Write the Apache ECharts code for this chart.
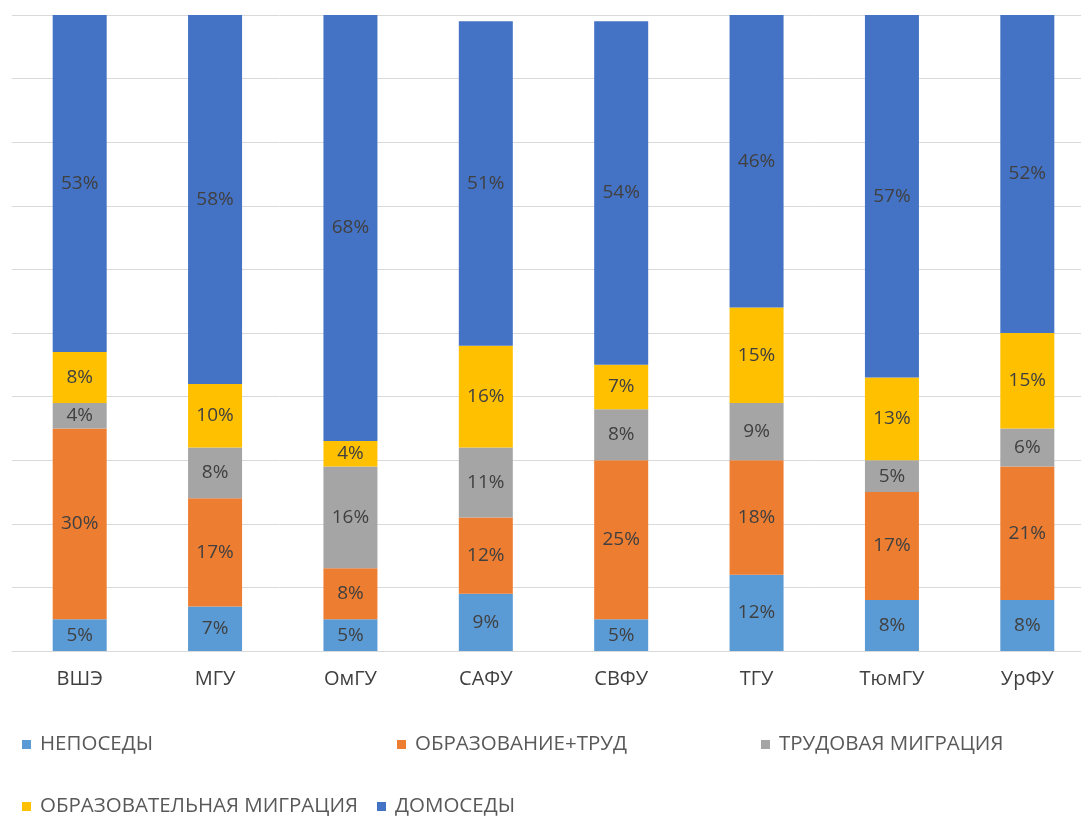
<!DOCTYPE html>
<html><head><meta charset="utf-8">
<script src="https://cdn.jsdelivr.net/npm/echarts@6/dist/echarts.min.js"></script>
<style>html,body{margin:0;padding:0;background:#fff}#c{width:1081px;height:821px}</style>
</head><body><div id="c"></div>
<script>
const categories = ['ВШЭ','МГУ','ОмГУ','САФУ','СВФУ','ТГУ','ТюмГУ','УрФУ'];
const seriesNames = ['НЕПОСЕДЫ','ОБРАЗОВАНИЕ+ТРУД','ТРУДОВАЯ МИГРАЦИЯ','ОБРАЗОВАТЕЛЬНАЯ МИГРАЦИЯ','ДОМОСЕДЫ'];
const neposedy   = [5, 7, 5, 9, 5, 12, 8, 8];
const obrTrud    = [30, 17, 8, 12, 25, 18, 17, 21];
const trudMigr   = [4, 8, 16, 11, 8, 9, 5, 6];
const obrMigr    = [8, 10, 4, 16, 7, 15, 13, 15];
const domosedy   = [53, 58, 68, 51, 54, 46, 57, 52];
const colors = ['#5B9BD5','#ED7D31','#A5A5A5','#FFC000','#4472C4'];
const allData = [neposedy, obrTrud, trudMigr, obrMigr, domosedy];

const font = '"Open Sans", "Noto Sans", sans-serif';
const legendPos = [
  {left: 22, top: 734},
  {left: 397, top: 734},
  {left: 761, top: 734},
  {left: 22, top: 796},
  {left: 377, top: 796}
];
const chart = echarts.init(document.getElementById('c'));
chart.setOption({
  animation: false,
  legend: seriesNames.map((n, i) => ({
    data: [n], left: legendPos[i].left, top: legendPos[i].top,
    icon: 'rect', itemWidth: 9, itemHeight: 9, itemGap: 6, padding: 0,
    textStyle: {color: '#595959', fontSize: 20.5, fontFamily: font, padding: [0, 0, 0, 4]}
  })),
  grid: {left: 12, top: 15, width: 1083, height: 636, outerBoundsMode: 'none', containLabel: false},
  xAxis: {
    type: 'category', data: categories,
    axisLine: {show: true, lineStyle: {color: '#d9d9d9'}},
    axisTick: {show: false},
    axisLabel: {color: '#404040', fontSize: 20, fontFamily: font, margin: 18}
  },
  yAxis: {
    type: 'value', min: 0, max: 100, interval: 10,
    axisLabel: {show: false}, axisLine: {show: false}, axisTick: {show: false},
    splitLine: {lineStyle: {color: '#d9d9d9', width: 1}}
  },
  series: allData.map((d, i) => ({
    name: seriesNames[i], type: 'bar', stack: 'total', data: d,
    barWidth: 54, clip: true,
    itemStyle: {color: colors[i]},
    label: {show: true, position: 'inside', formatter: '{c}%', color: '#404040',
            fontSize: 19, fontFamily: font}
  }))
});
</script></body></html>
